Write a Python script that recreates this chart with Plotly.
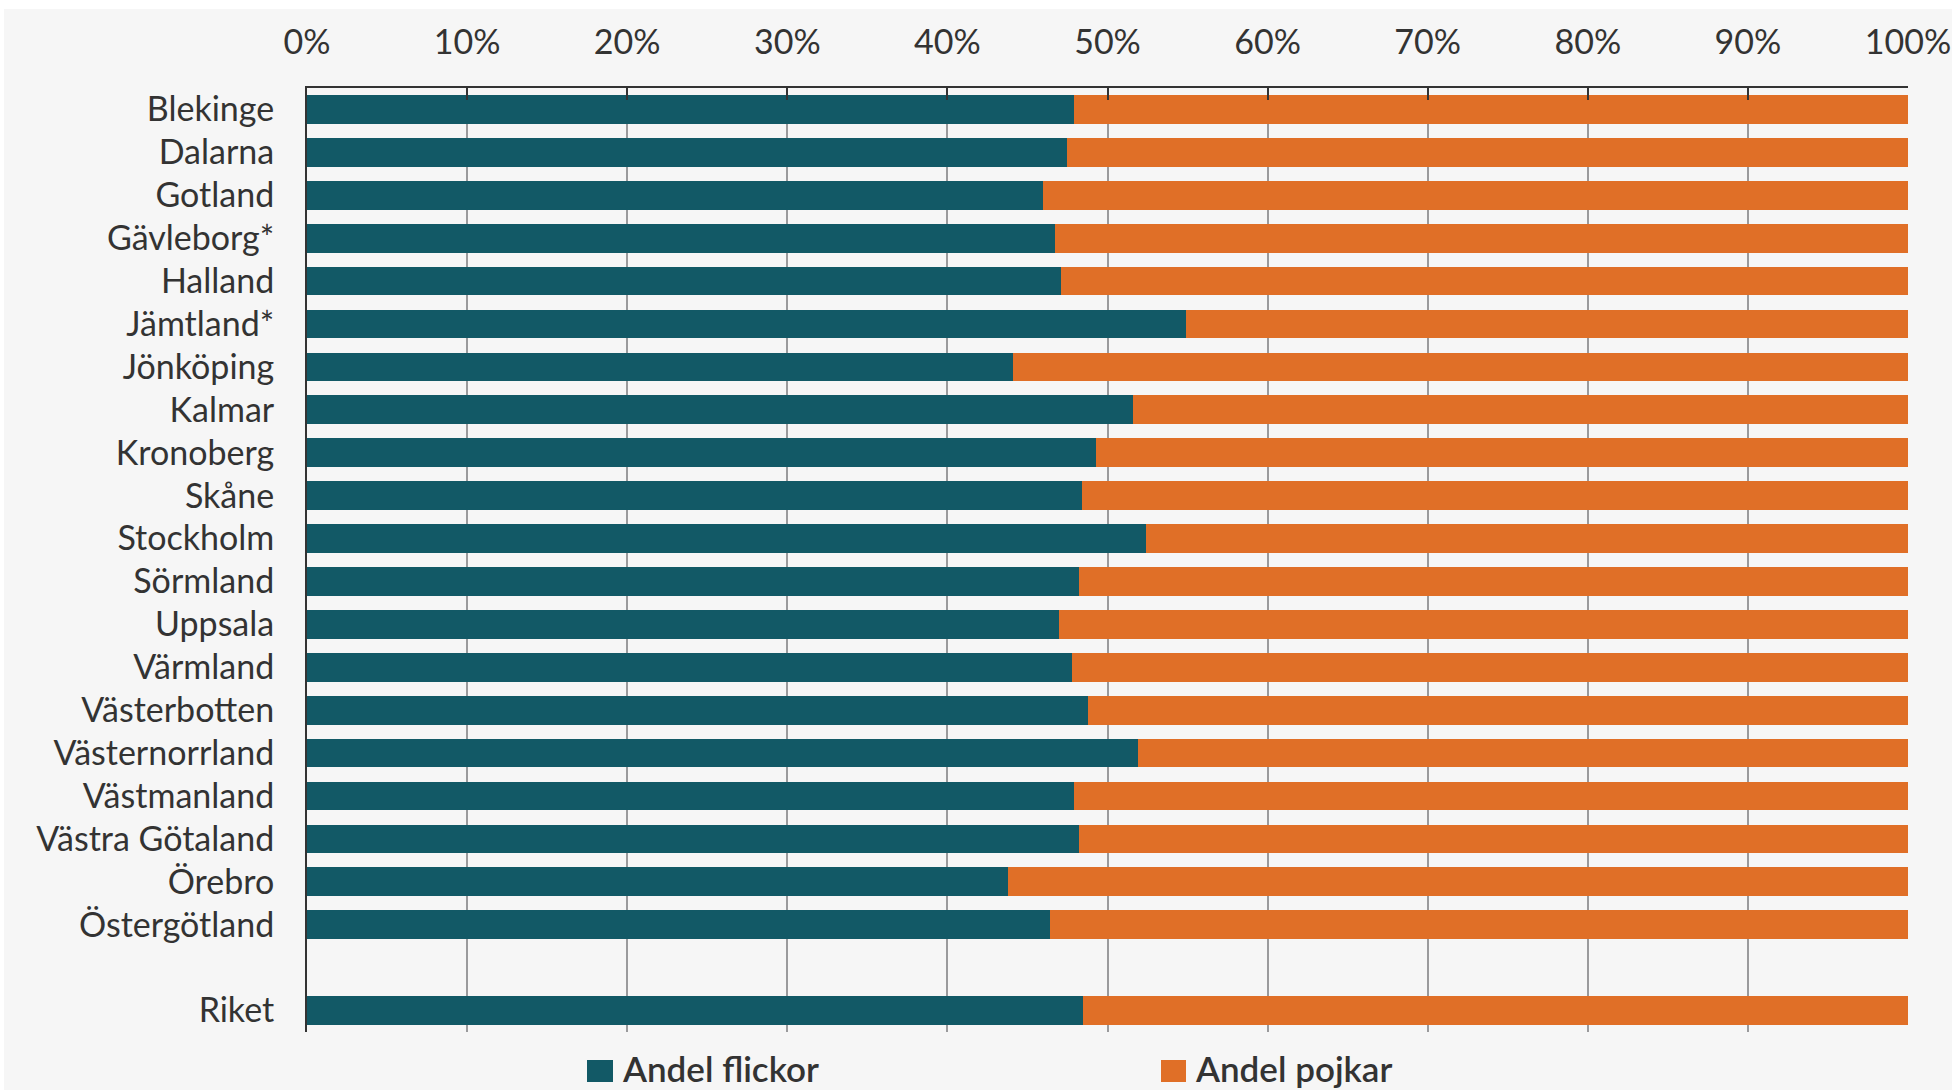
import plotly.graph_objects as go

# Share of girls / boys per county (percent)
counties = [
    "Blekinge", "Dalarna", "Gotland", "Gävleborg*", "Halland", "Jämtland*",
    "Jönköping", "Kalmar", "Kronoberg", "Skåne", "Stockholm", "Sörmland",
    "Uppsala", "Värmland", "Västerbotten", "Västernorrland", "Västmanland",
    "Västra Götaland", "Örebro", "Östergötland", " ", "Riket",
]
andel_flickor = [
    47.9, 47.5, 46.0, 46.7, 47.1, 54.9, 44.1, 51.6, 49.3, 48.4, 52.4,
    48.2, 47.0, 47.8, 48.8, 51.9, 47.9, 48.2, 43.8, 46.4, None, 48.5,
]
andel_pojkar = [
    52.1, 52.5, 54.0, 53.3, 52.9, 45.1, 55.9, 48.4, 50.7, 51.6, 47.6,
    51.8, 53.0, 52.2, 51.2, 48.1, 52.1, 51.8, 56.2, 53.6, None, 51.5,
]
x_tickvals = [0, 10, 20, 30, 40, 50, 60, 70, 80, 90, 100]
x_ticktext = ["0%", "10%", "20%", "30%", "40%", "50%", "60%", "70%", "80%", "90%", "100%"]
legend_names = ["Andel flickor", "Andel pojkar"]

TEAL = "#125966"
ORANGE = "#E06F27"
TEXT = "#333333"
BG = "#F6F6F6"

W, H = 1952, 1090
ML, MR, MT, MB = 307, 44, 88, 58
PW, PH = W - ML - MR, H - MT - MB


def px_x(px):
    return (px - ML) / PW


def px_y(py):
    return (H - MB - py) / PH


fig = go.Figure()
fig.add_trace(go.Bar(y=counties, x=andel_flickor, orientation="h",
                     marker=dict(color=TEAL, line=dict(width=0)),
                     name=legend_names[0], showlegend=False))
fig.add_trace(go.Bar(y=counties, x=andel_pojkar, orientation="h",
                     marker=dict(color=ORANGE, line=dict(width=0)),
                     name=legend_names[1], showlegend=False))

shapes = [
    # light grey card behind the whole chart
    dict(type="rect", xref="paper", yref="paper", layer="below",
         x0=px_x(4), x1=px_x(W + 2), y0=px_y(9), y1=px_y(H + 2),
         fillcolor=BG, line=dict(width=0)),
]
annotations = []
legend_items = [(587, 613, legend_names[0], TEAL), (1161, 1186, legend_names[1], ORANGE)]
for x0, x1, label, col in legend_items:
    shapes.append(dict(type="rect", xref="paper", yref="paper", layer="above",
                       x0=px_x(x0), x1=px_x(x1), y0=px_y(1082), y1=px_y(1060),
                       fillcolor=col, line=dict(width=0)))
    annotations.append(dict(text=label, xref="paper", yref="paper",
                            x=px_x(x1 + 7), y=px_y(1068), xanchor="left", yanchor="middle",
                            showarrow=False,
                            font=dict(family="Lato", size=35, color=TEXT, weight=600)))

fig.update_layout(
    width=W, height=H,
    margin=dict(l=ML, r=MR, t=MT, b=MB, pad=0, autoexpand=False),
    paper_bgcolor="white",
    plot_bgcolor="rgba(0,0,0,0)",
    barmode="stack",
    bargap=0.33,
    showlegend=False,
    font=dict(family="Lato", size=34, color=TEXT),
    shapes=shapes,
    annotations=annotations,
)
fig.update_xaxes(
    side="top", range=[0, 100], tickvals=x_tickvals, ticktext=x_ticktext,
    showgrid=True, gridcolor="#9a9a9c", gridwidth=2, zeroline=False,
    showline=True, linecolor=TEXT, linewidth=2,
    ticks="inside", ticklen=12, tickwidth=2, tickcolor=TEXT,
    ticklabelstandoff=18, automargin=False, fixedrange=True,
)
fig.update_yaxes(
    type="category", categoryorder="array", categoryarray=counties,
    range=[len(counties) - 0.5, -0.5],
    showgrid=False, zeroline=False, showline=True, linecolor=TEXT, linewidth=2,
    ticks="", ticklabelstandoff=24, automargin=False, fixedrange=True,
)

fig.write_html("out.html")
